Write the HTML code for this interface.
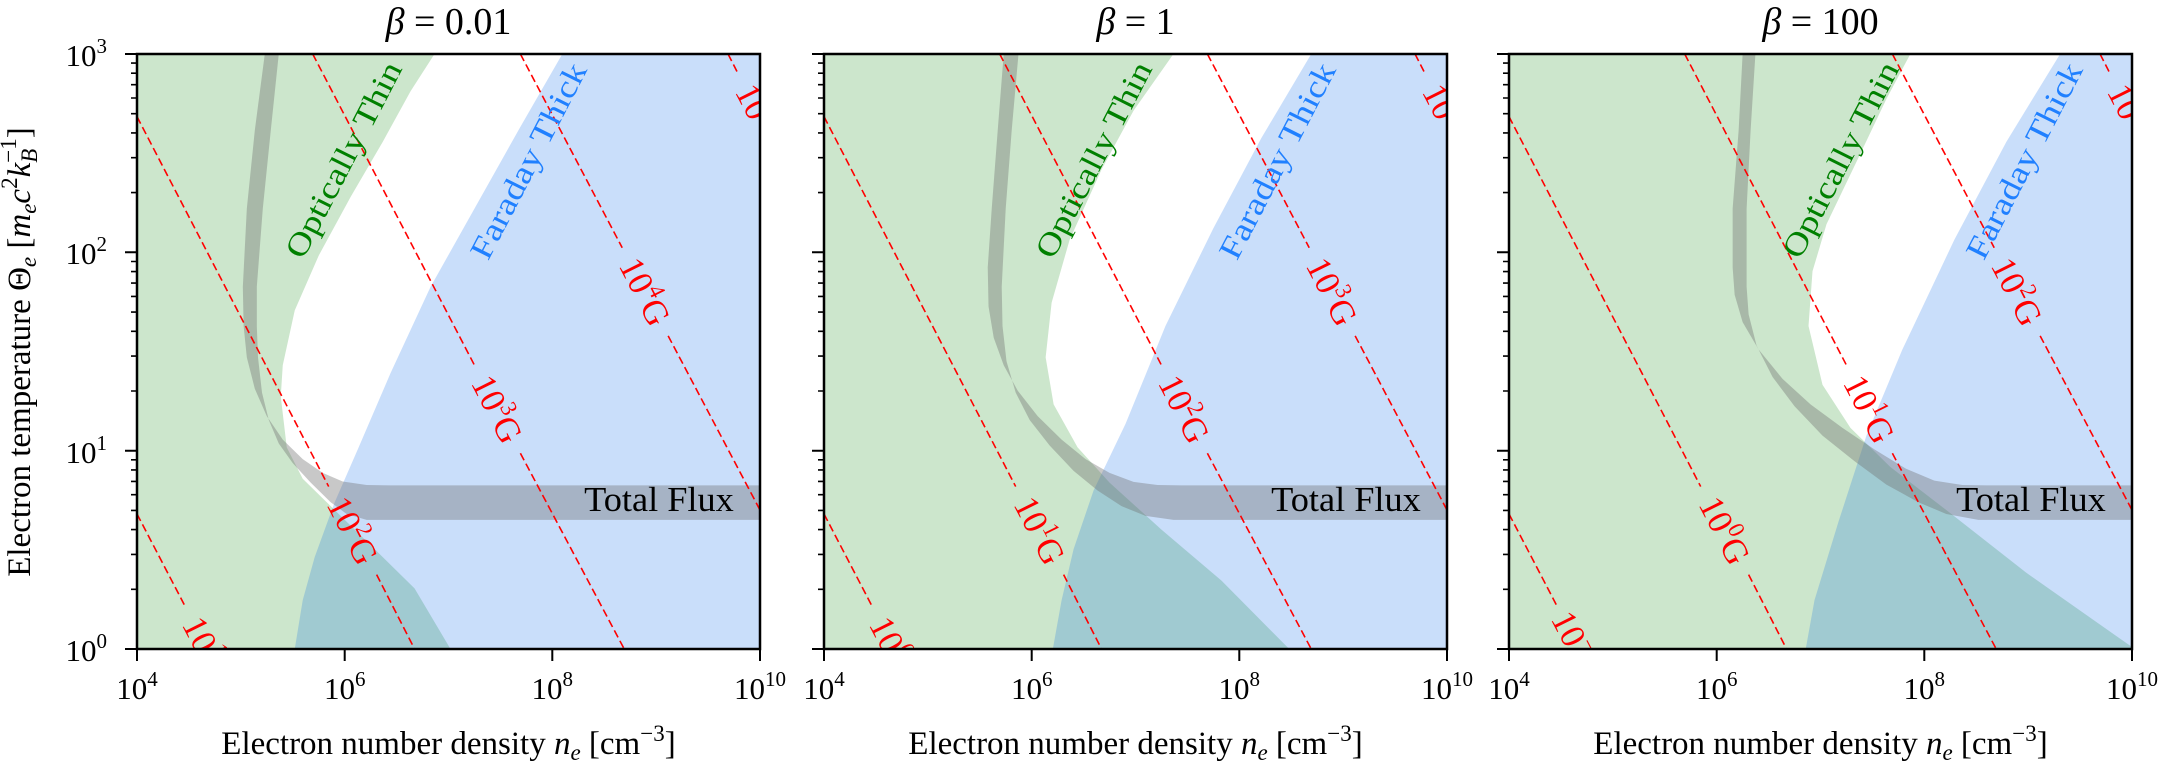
<!DOCTYPE html>
<html><head><meta charset="utf-8"><style>
html,body{margin:0;padding:0;background:#fff}
svg{display:block}
text{font-family:"Liberation Serif","DejaVu Serif",serif}
</style></head><body>
<svg width="2162" height="762" viewBox="0 0 2162 762" xmlns="http://www.w3.org/2000/svg">
<defs>
<g id="lines">
  <g stroke="#ff0000" stroke-width="4" stroke-dasharray="20 10" fill="none">
    <line x1="5" y1="1180" x2="125" y2="1415"/>
    <line x1="5" y1="165" x2="485" y2="1110"/>
    <line x1="605" y1="1335" x2="700" y2="1525"/>
    <line x1="445" y1="5" x2="850" y2="800"/>
    <line x1="965" y1="1025" x2="1225" y2="1525"/>
    <line x1="965" y1="5" x2="1220" y2="500"/>
    <line x1="1335" y1="725" x2="1565" y2="1170"/>
    <line x1="1485" y1="5" x2="1510" y2="55"/>
  </g>
  <text x="1312" y="1172" font-size="88" textLength="375" lengthAdjust="spacingAndGlyphs" text-anchor="middle" fill="#000">Total Flux</text>
</g>
</defs>

<!-- Panel 1 -->
<svg x="137" y="54" width="623" height="595" viewBox="5 5 1560 1520" preserveAspectRatio="none">
<path d="M5,5 L750,5 L690,100 L620,230 L540,370 L460,520 L400,660 L370,800 L365,880 L380,1010 L420,1090 L500,1170 L600,1270 L700,1370 L790,1525 L5,1525Z" fill="#008000" fill-opacity="0.2"/>
<path d="M1070,5 L1565,5 L1565,1525 L400,1525 L420,1400 L450,1290 L500,1150 L560,1010 L640,820 L740,600 L850,400 L960,200Z" fill="#0062e7" fill-opacity="0.21"/>
<path d="M325,5 L300,200 L280,400 L270,600 L272,700 L280,780 L300,860 L330,930 L370,990 L420,1040 L470,1075 L520,1097 L580,1106 L640,1107 L1565,1107 L1565,1195 L580,1195 L530,1180 L490,1150 L440,1100 L395,1050 L360,1000 L335,940 L318,870 L308,780 L305,700 L305,600 L320,400 L340,200 L360,5Z" fill="#6e6e6e" fill-opacity="0.38"/>
<use href="#lines"/>
<g fill="#ff0000" font-size="88" text-anchor="middle" dominant-baseline="central">
<text transform="translate(183,1529) rotate(63)">10<tspan dy="-28" font-size="58">1</tspan><tspan dy="28">G</tspan></text>
<text transform="translate(545,1222) rotate(63)">10<tspan dy="-28" font-size="58">2</tspan><tspan dy="28">G</tspan></text>
<text transform="translate(907,912) rotate(63)">10<tspan dy="-28" font-size="58">3</tspan><tspan dy="28">G</tspan></text>
<text transform="translate(1277,612) rotate(63)">10<tspan dy="-28" font-size="58">4</tspan><tspan dy="28">G</tspan></text>
<text transform="translate(1568,168) rotate(63)">10<tspan dy="-28" font-size="58">5</tspan><tspan dy="28">G</tspan></text>
</g>
<text transform="translate(522,275) rotate(-63)" font-size="80" fill="#008000" text-anchor="middle" dominant-baseline="central" textLength="550" lengthAdjust="spacingAndGlyphs">Optically Thin</text>
<text transform="translate(985,278) rotate(-63)" font-size="80" fill="#2080ff" text-anchor="middle" dominant-baseline="central" textLength="550" lengthAdjust="spacingAndGlyphs">Faraday Thick</text>
</svg>

<!-- Panel 2 -->
<svg x="824" y="54" width="623" height="595" viewBox="5 5 1560 1520" preserveAspectRatio="none">
<path d="M5,5 L880,5 L780,150 L700,300 L620,480 L575,640 L560,780 L580,900 L640,1010 L720,1100 L850,1220 L1000,1350 L1170,1525 L5,1525Z" fill="#008000" fill-opacity="0.2"/>
<path d="M1225,5 L1565,5 L1565,1525 L578,1525 L600,1400 L630,1270 L680,1120 L760,950 L860,700 L980,450 L1100,220Z" fill="#0062e7" fill-opacity="0.21"/>
<path d="M455,5 L440,200 L425,400 L415,550 L417,650 L430,730 L455,800 L490,865 L540,930 L600,990 L660,1040 L720,1075 L780,1098 L840,1106 L900,1107 L1565,1107 L1565,1195 L880,1195 L810,1185 L750,1160 L690,1120 L630,1070 L570,1005 L520,940 L485,870 L462,790 L452,700 L450,600 L460,400 L475,200 L492,5Z" fill="#6e6e6e" fill-opacity="0.38"/>
<use href="#lines"/>
<g fill="#ff0000" font-size="88" text-anchor="middle" dominant-baseline="central">
<text transform="translate(183,1529) rotate(63)">10<tspan dy="-28" font-size="58">0</tspan><tspan dy="28">G</tspan></text>
<text transform="translate(545,1222) rotate(63)">10<tspan dy="-28" font-size="58">1</tspan><tspan dy="28">G</tspan></text>
<text transform="translate(907,912) rotate(63)">10<tspan dy="-28" font-size="58">2</tspan><tspan dy="28">G</tspan></text>
<text transform="translate(1277,612) rotate(63)">10<tspan dy="-28" font-size="58">3</tspan><tspan dy="28">G</tspan></text>
<text transform="translate(1568,168) rotate(63)">10<tspan dy="-28" font-size="58">4</tspan><tspan dy="28">G</tspan></text>
</g>
<text transform="translate(680,275) rotate(-63)" font-size="80" fill="#008000" text-anchor="middle" dominant-baseline="central" textLength="550" lengthAdjust="spacingAndGlyphs">Optically Thin</text>
<text transform="translate(1140,278) rotate(-63)" font-size="80" fill="#2080ff" text-anchor="middle" dominant-baseline="central" textLength="550" lengthAdjust="spacingAndGlyphs">Faraday Thick</text>
</svg>

<!-- Panel 3 -->
<svg x="1509" y="54" width="623" height="595" viewBox="5 5 1560 1520" preserveAspectRatio="none">
<path d="M5,5 L1010,5 L950,120 L880,270 L800,440 L765,560 L755,700 L790,850 L860,960 L960,1060 L1100,1170 L1300,1330 L1565,1520 L1565,1525 L5,1525Z" fill="#008000" fill-opacity="0.2"/>
<path d="M1385,5 L1565,5 L1565,1525 L748,1525 L770,1400 L830,1200 L900,980 L990,760 L1120,480 L1250,230Z" fill="#0062e7" fill-opacity="0.21"/>
<path d="M590,5 L580,200 L565,400 L565,550 L570,620 L590,690 L630,760 L690,835 L760,900 L840,960 L920,1015 L1000,1065 L1070,1095 L1140,1106 L1200,1107 L1565,1107 L1565,1195 L1180,1195 L1100,1180 L1030,1150 L950,1105 L870,1045 L790,980 L720,905 L665,830 L625,750 L605,670 L600,600 L600,400 L610,200 L622,5Z" fill="#6e6e6e" fill-opacity="0.38"/>
<use href="#lines"/>
<g fill="#ff0000" font-size="88" text-anchor="middle" dominant-baseline="central">
<text transform="translate(183,1529) rotate(63)">10<tspan dy="-28" font-size="58">−1</tspan><tspan dy="28">G</tspan></text>
<text transform="translate(545,1222) rotate(63)">10<tspan dy="-28" font-size="58">0</tspan><tspan dy="28">G</tspan></text>
<text transform="translate(907,912) rotate(63)">10<tspan dy="-28" font-size="58">1</tspan><tspan dy="28">G</tspan></text>
<text transform="translate(1277,612) rotate(63)">10<tspan dy="-28" font-size="58">2</tspan><tspan dy="28">G</tspan></text>
<text transform="translate(1568,168) rotate(63)">10<tspan dy="-28" font-size="58">3</tspan><tspan dy="28">G</tspan></text>
</g>
<text transform="translate(835,275) rotate(-63)" font-size="80" fill="#008000" text-anchor="middle" dominant-baseline="central" textLength="550" lengthAdjust="spacingAndGlyphs">Optically Thin</text>
<text transform="translate(1295,278) rotate(-63)" font-size="80" fill="#2080ff" text-anchor="middle" dominant-baseline="central" textLength="550" lengthAdjust="spacingAndGlyphs">Faraday Thick</text>
</svg>

<!-- Frames and ticks -->
<g fill="none" stroke="#000">
<rect x="137" y="54" width="623" height="595" stroke-width="2.5"/>
<rect x="824" y="54" width="623" height="595" stroke-width="2.5"/>
<rect x="1509" y="54" width="623" height="595" stroke-width="2.5"/>
</g>
<g stroke="#000" stroke-width="2">
<path d="M137,649v12M344.7,649v12M552.3,649v12M760,649v12
M824,649v12M1031.7,649v12M1239.3,649v12M1447,649v12
M1509,649v12M1716.7,649v12M1924.3,649v12M2132,649v12"/>
</g>
<g id="yt" stroke="#000" stroke-width="2">
<path d="M137,649h-12M137,450.7h-12M137,252.3h-12M137,54h-12"/>
<path stroke-width="1.6" d="
M137,589.3h-6M137,554.4h-6M137,529.6h-6M137,510.4h-6M137,494.7h-6M137,481.4h-6M137,469.9h-6M137,459.8h-6
M137,391h-6M137,356.1h-6M137,331.3h-6M137,312.1h-6M137,296.4h-6M137,283.1h-6M137,271.6h-6M137,261.5h-6
M137,192.6h-6M137,157.7h-6M137,132.9h-6M137,113.7h-6M137,98h-6M137,84.7h-6M137,73.2h-6M137,63.1h-6"/>
</g>
<use href="#yt" transform="translate(687,0)"/>
<use href="#yt" transform="translate(1372,0)"/>

<g font-size="31" fill="#000" text-anchor="end">
<text x="107" y="661">10<tspan dy="-13" font-size="21">0</tspan></text>
<text x="107" y="463">10<tspan dy="-13" font-size="21">1</tspan></text>
<text x="107" y="264">10<tspan dy="-13" font-size="21">2</tspan></text>
<text x="107" y="66">10<tspan dy="-13" font-size="21">3</tspan></text>
</g>
<g font-size="31" fill="#000" text-anchor="middle">
<text x="137" y="699">10<tspan dy="-13" font-size="21">4</tspan></text>
<text x="344.7" y="699">10<tspan dy="-13" font-size="21">6</tspan></text>
<text x="552.3" y="699">10<tspan dy="-13" font-size="21">8</tspan></text>
<text x="760" y="699">10<tspan dy="-13" font-size="21">10</tspan></text>
<text x="824" y="699">10<tspan dy="-13" font-size="21">4</tspan></text>
<text x="1031.7" y="699">10<tspan dy="-13" font-size="21">6</tspan></text>
<text x="1239.3" y="699">10<tspan dy="-13" font-size="21">8</tspan></text>
<text x="1447" y="699">10<tspan dy="-13" font-size="21">10</tspan></text>
<text x="1509" y="699">10<tspan dy="-13" font-size="21">4</tspan></text>
<text x="1716.7" y="699">10<tspan dy="-13" font-size="21">6</tspan></text>
<text x="1924.3" y="699">10<tspan dy="-13" font-size="21">8</tspan></text>
<text x="2132" y="699">10<tspan dy="-13" font-size="21">10</tspan></text>
</g>

<g font-size="33" fill="#000" text-anchor="middle">
<text x="448.5" y="754">Electron number density <tspan font-style="italic">n</tspan><tspan font-style="italic" font-size="23" dy="6">e</tspan><tspan dy="-6"> [cm</tspan><tspan font-size="23" dy="-13">−3</tspan><tspan dy="13">]</tspan></text>
<text x="1135.5" y="754">Electron number density <tspan font-style="italic">n</tspan><tspan font-style="italic" font-size="23" dy="6">e</tspan><tspan dy="-6"> [cm</tspan><tspan font-size="23" dy="-13">−3</tspan><tspan dy="13">]</tspan></text>
<text x="1820.5" y="754">Electron number density <tspan font-style="italic">n</tspan><tspan font-style="italic" font-size="23" dy="6">e</tspan><tspan dy="-6"> [cm</tspan><tspan font-size="23" dy="-13">−3</tspan><tspan dy="13">]</tspan></text>
<text transform="translate(30,352) rotate(-90)">Electron temperature Θ<tspan font-style="italic" font-size="23" dy="6">e</tspan><tspan dy="-6"> [</tspan><tspan font-style="italic">m</tspan><tspan font-style="italic" font-size="23" dy="6">e</tspan><tspan font-style="italic" dy="-6">c</tspan><tspan font-size="23" dy="-13">2</tspan><tspan font-style="italic" dy="13">k</tspan><tspan font-style="italic" font-size="23" dy="7">B</tspan><tspan font-size="23" dx="-14" dy="-21">−1</tspan><tspan dy="14">]</tspan></text>
</g>

<g font-size="38" fill="#000" text-anchor="middle">
<text x="448.5" y="34"><tspan font-style="italic">β</tspan> = 0.01</text>
<text x="1135.5" y="34"><tspan font-style="italic">β</tspan> = 1</text>
<text x="1820.5" y="34"><tspan font-style="italic">β</tspan> = 100</text>
</g>
</svg>
</body></html>
